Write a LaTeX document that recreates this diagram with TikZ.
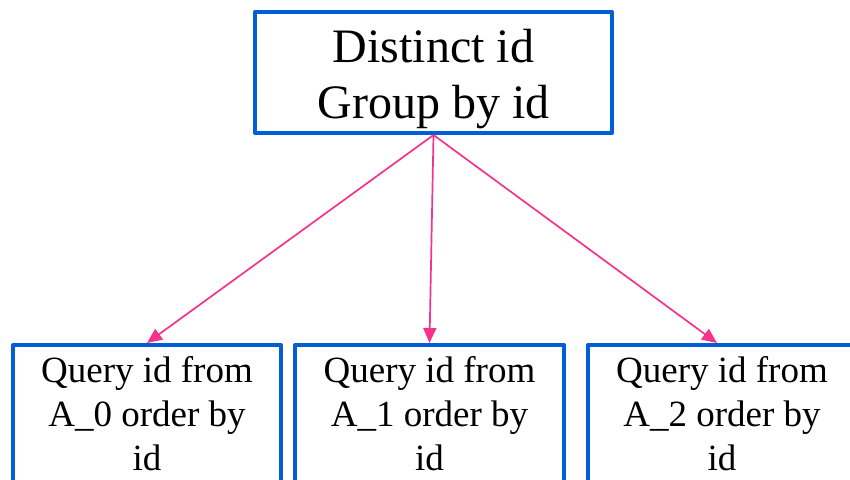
\documentclass[tikz,border=0pt]{standalone}
\usepackage{fontspec}
\setmainfont{Liberation Serif}
\usetikzlibrary{arrows.meta}
\definecolor{boxblue}{RGB}{0,94,214}
\definecolor{linkpink}{RGB}{245,50,140}
\begin{document}
\begin{tikzpicture}[x=1pt,y=-1pt,
  box/.style={draw=boxblue,line width=4pt,line join=round,rectangle,inner sep=0pt},
  toptext/.style={font=\fontsize{48}{56}\selectfont,align=center,inner sep=0pt},
  qtext/.style={font=\fontsize{37}{44}\selectfont,align=center,inner sep=0pt,anchor=north},
  link/.style={draw=linkpink,line width=1.7pt,-{Triangle[length=15pt,width=13pt]}}]
  \useasboundingbox (0,0) rectangle (850,479);
  \clip (0,0) rectangle (850,479);
  % root step
  \node[box,minimum width=357pt,minimum height=121pt] (top) at (433.5,72.5) {};
  \node[toptext] (topLabel) at (433.5,78.8) {Distinct id\\Group by id};
  % per-table queries (boxes run past the lower edge)
  \node[box,minimum width=268pt,minimum height=200pt] (q0) at (147,445) {};
  \node[box,minimum width=269pt,minimum height=200pt] (q1) at (429.5,445) {};
  \node[box,minimum width=268pt,minimum height=200pt] (q2) at (722,445) {};
  \node[qtext] (q0Label) at (147,356.7) {Query id from\\A\_0 order by\\id};
  \node[qtext] (q1Label) at (429.5,356.7) {Query id from\\A\_1 order by\\id};
  \node[qtext] (q2Label) at (722,356.7) {Query id from\\A\_2 order by\\id};
  % fan-out
  \draw[link] (top.south) -- (q0.north);
  \draw[link] (top.south) -- (q1.north);
  \draw[link] (top.south) -- ([xshift=-5pt]q2.north);
\end{tikzpicture}
\end{document}
